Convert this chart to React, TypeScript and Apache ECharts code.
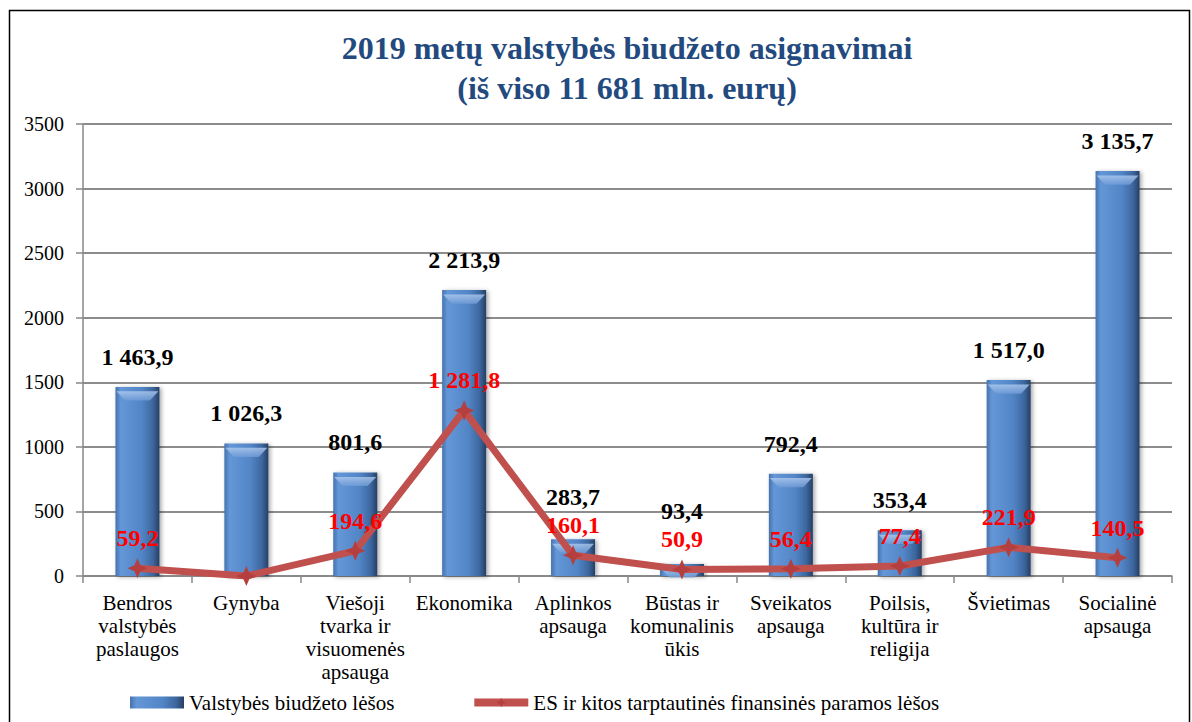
import React, { useEffect, useRef } from "react";
import * as echarts from "echarts";

const categories = [
  "Bendros\nvalstybės\npaslaugos",
  "Gynyba",
  "Viešoji\ntvarka ir\nvisuomenės\napsauga",
  "Ekonomika",
  "Aplinkos\napsauga",
  "Būstas ir\nkomunalinis\nūkis",
  "Sveikatos\napsauga",
  "Poilsis,\nkultūra ir\nreligija",
  "Švietimas",
  "Socialinė\napsauga",
];
const budgetValues = [1463.9, 1026.3, 801.6, 2213.9, 283.7, 93.4, 792.4, 353.4, 1517.0, 3135.7];
const euValues = [59.2, 0, 194.6, 1281.8, 160.1, 50.9, 56.4, 77.4, 221.9, 140.5];
const seriesNames = ["Valstybės biudžeto lėšos", "ES ir kitos tarptautinės finansinės paramos lėšos"];
const titleText = "2019 metų valstybės biudžeto asignavimai\n(iš viso 11 681 mln. eurų)";

const fmt = (v: number) => {
  if (!v) return "";
  const [i, d] = v.toFixed(1).split(".");
  return i.replace(/\B(?=(\d{3})+(?!\d))/g, " ") + "," + d;
};

const SERIF = "Liberation Serif";
const LINE_LABEL_DIST = 8;
const LINE_SYMBOL = 20;
const LABEL_FONT = 24;

export default function App() {
  const ref = useRef<HTMLDivElement>(null);
  useEffect(() => {
    if (!ref.current) return;
    const chart = echarts.init(ref.current, null, { renderer: "svg" });
    const barGrad = new echarts.graphic.LinearGradient(0, 0, 1, 0, [
      { offset: 0, color: "#4572ac" },
      { offset: 0.12, color: "#6497d8" },
      { offset: 0.6, color: "#5285c6" },
      { offset: 0.85, color: "#3d679f" },
      { offset: 1, color: "#263f63" },
    ]);
    const bevelGrad = new echarts.graphic.LinearGradient(0, 0, 0, 1, [
      { offset: 0, color: "#b0cbef" },
      { offset: 1, color: "#6f9bd6" },
    ]);
    chart.setOption({
      animation: false,
      backgroundColor: "#ffffff",
      textStyle: { fontFamily: SERIF },
      title: {
        text: titleText,
        left: 622,
        textAlign: "center",
        top: 23,
        textStyle: {
          fontFamily: SERIF,
          fontWeight: "bold",
          fontSize: 32,
          color: "#234a7e",
          lineHeight: 40,
        },
      },
      graphic: [
        {
          type: "rect",
          shape: { x: 9.5, y: 10.5, width: 1180, height: 740 },
          style: { fill: "none", stroke: "#000", lineWidth: 1.5 },
          silent: true,
        },
      ],
      legend: {
        bottom: 4,
        left: 125,
        itemGap: 76,
        itemWidth: 54,
        itemHeight: 12,
        lineStyle: { width: 8 },
        textStyle: { fontFamily: SERIF, fontSize: 21, color: "#000" },
        data: [
          { name: seriesNames[0], icon: "rect" },
          { name: seriesNames[1] },
        ],
      },
      grid: { left: 83, right: 20, top: 124, bottom: 146 },
      xAxis: {
        type: "category",
        data: categories,
        axisLine: { lineStyle: { color: "#888", width: 1.5 } },
        axisTick: { show: true, length: 7, lineStyle: { color: "#888", width: 1.5 } },
        axisLabel: {
          interval: 0,
          fontFamily: SERIF,
          fontSize: 21,
          color: "#000",
          lineHeight: 23,
          margin: 15,
        },
      },
      yAxis: {
        type: "value",
        min: 0,
        max: 3500,
        interval: 500,
        axisLine: { show: true, lineStyle: { color: "#888", width: 1.5 } },
        axisTick: { show: true, length: 7, lineStyle: { color: "#888", width: 1.5 } },
        splitLine: { lineStyle: { color: "#8c8c8c", width: 1.8 } },
        axisLabel: {
          fontFamily: SERIF,
          fontSize: 20,
          color: "#000",
          margin: 19,
          formatter: (v: number) => String(v),
        },
      },
      series: [
        {
          name: seriesNames[0],
          type: "bar",
          data: budgetValues,
          barWidth: 44,
          itemStyle: {
            color: barGrad,
            shadowColor: "rgba(0,0,0,0.35)",
            shadowBlur: 4,
            shadowOffsetX: 2,
            shadowOffsetY: 1,
          },
          label: {
            show: true,
            position: "top",
            distance: 18,
            formatter: (p: any) => fmt(p.value),
            fontFamily: SERIF,
            fontWeight: "bold",
            fontSize: LABEL_FONT,
            color: "#000",
          },
          labelLayout: (params: any) => {
            const i = params.dataIndex;
            const ev = euValues[i];
            if (!ev) return {};
            const pt = chart.convertToPixel({ seriesIndex: 2 }, [i, ev]) as number[];
            if (!pt) return {};
            const lineLabelTop = pt[1] - LINE_SYMBOL / 2 - LINE_LABEL_DIST - 26;
            const bottom = params.labelRect.y + params.labelRect.height;
            return { dy: Math.min(0, lineLabelTop - 2 - bottom) };
          },
        },
        {
          name: "bevel",
          type: "pictorialBar",
          data: budgetValues,
          symbol: "path://M0,0 L44,0 L35,9 L9,9 Z",
          symbolSize: [42, 9],
          symbolPosition: "end",
          symbolOffset: [0, "50%"],
          itemStyle: { color: bevelGrad, opacity: 0.8 },
          silent: true,
          z: 3,
        },
        {
          name: seriesNames[1],
          type: "line",
          data: euValues,
          symbol: "path://M0,-10 L3,-3 L10,0 L3,3 L0,10 L-3,3 L-10,0 L-3,-3 Z",
          symbolSize: LINE_SYMBOL,
          showAllSymbol: true,
          lineStyle: { color: "#c0504d", width: 7 },
          itemStyle: { color: "#b53e3e" },
          label: {
            show: true,
            position: "top",
            distance: LINE_LABEL_DIST,
            formatter: (p: any) => fmt(p.value),
            fontFamily: SERIF,
            fontWeight: "bold",
            fontSize: LABEL_FONT,
            color: "#ff0000",
          },
          z: 5,
        },
      ],
    });
    return () => chart.dispose();
  }, []);
  return (
    <div
      ref={ref}
      style={{ position: "fixed", left: 0, top: 0, width: 1192, height: 722 }}
    />
  );
}
